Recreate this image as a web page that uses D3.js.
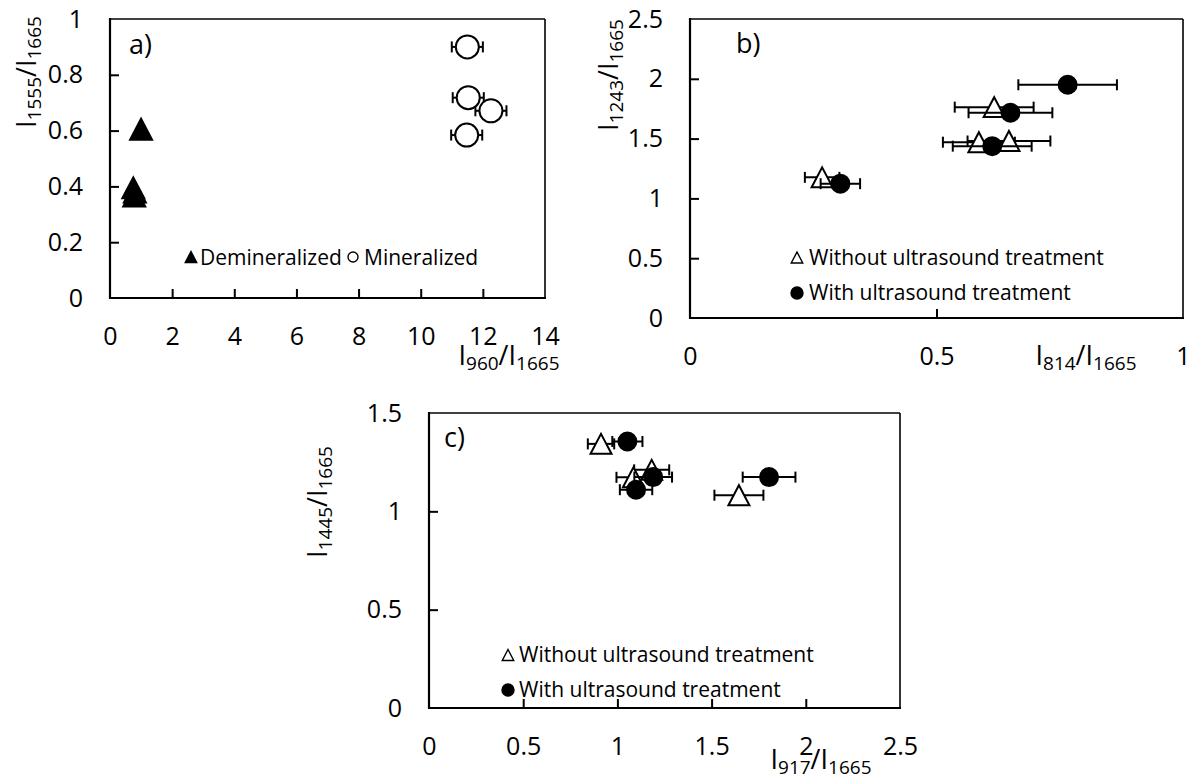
<!DOCTYPE html>
<html>
<head>
<meta charset="utf-8">
<script src="https://cdn.jsdelivr.net/npm/d3@7"></script>
<style>
  html, body { margin: 0; padding: 0; background: #fff; }
  svg text { font-family: "Open Sans", "Liberation Sans", sans-serif; fill: #000; }
</style>
</head>
<body>
<svg id="chart" width="1191" height="778"></svg>
<script>
// ---------- Panel a data ----------
const aDemX = [1.0, 0.75, 0.8, 0.78];
const aDemY = [0.605, 0.395, 0.38, 0.365];
const aMinX = [11.5, 11.53, 12.26, 11.48];
const aMinY = [0.90, 0.718, 0.671, 0.584];
const aMinXErr = [0.5, 0.5, 0.5, 0.5];
const aXTicks = [0, 2, 4, 6, 8, 10, 12, 14];
const aYTicks = [0, 0.2, 0.4, 0.6, 0.8, 1];
const aLegend = ["Demineralized", "Mineralized"];

// ---------- Panel b data ----------
const bWithoutX = [0.268, 0.617, 0.586, 0.647];
const bWithoutY = [1.176, 1.763, 1.47, 1.48];
const bWithoutErr = [0.035, 0.08, 0.073, 0.084];
const bWithX = [0.305, 0.766, 0.650, 0.613];
const bWithY = [1.123, 1.95, 1.716, 1.437];
const bWithErr = [0.04, 0.10, 0.085, 0.08];
const bXTicks = [0, 0.5, 1];
const bYTicks = [0, 0.5, 1, 1.5, 2, 2.5];

// ---------- Panel c data ----------
const cWithoutX = [0.913, 1.085, 1.182, 1.645];
const cWithoutY = [1.343, 1.173, 1.211, 1.082];
const cWithoutErr = [0.07, 0.09, 0.093, 0.13];
const cWithX = [1.053, 1.099, 1.19, 1.805];
const cWithY = [1.355, 1.11, 1.174, 1.174];
const cWithErr = [0.08, 0.086, 0.1, 0.14];
const cXTicks = [0, 0.5, 1, 1.5, 2, 2.5];
const cYTicks = [0, 0.5, 1, 1.5];

const treatLegend = ["Without ultrasound treatment", "With ultrasound treatment"];

const svg = d3.select("#chart");
const fmt = d => String(+(+d).toFixed(2));

function triPath(w, h) {
  return `M0,${-h/2}L${w/2},${h/2}L${-w/2},${h/2}Z`;
}

function panel(cfg) {
  const g = svg.append("g");
  const x = d3.scaleLinear().domain(cfg.xDomain).range([cfg.left, cfg.right]);
  const y = d3.scaleLinear().domain(cfg.yDomain).range([cfg.bottom, cfg.top]);

  // axes (ticks inside)
  const yAx = g.append("g").attr("transform", `translate(${cfg.left},0)`)
    .call(d3.axisLeft(y).tickValues(cfg.yTicks).tickFormat(fmt).tickSizeInner(-9).tickSizeOuter(0).tickPadding(27));
  const xAx = g.append("g").attr("transform", `translate(0,${cfg.bottom})`)
    .call(d3.axisBottom(x).tickValues(cfg.xTicks).tickFormat(fmt).tickSizeInner(-9).tickSizeOuter(0).tickPadding(29));
  [yAx, xAx].forEach(ax => {
    ax.select(".domain").remove();
    ax.selectAll("text").attr("font-size", 25).attr("font-family", "Open Sans");
    ax.selectAll(".tick line").attr("stroke", "#000").attr("stroke-width", 2);
  });
  const yd = cfg.yDomain, xd = cfg.xDomain;
  yAx.selectAll(".tick").filter(d => d === yd[0] || d === yd[1]).select("line").remove();
  xAx.selectAll(".tick").filter(d => d === xd[0] || d === xd[1]).select("line").remove();

  // frame
  g.append("line").attr("x1", cfg.left).attr("x2", cfg.right).attr("y1", cfg.top).attr("y2", cfg.top)
    .attr("stroke", "#000").attr("stroke-width", 1.6);
  g.append("line").attr("x1", cfg.right).attr("x2", cfg.right).attr("y1", cfg.top).attr("y2", cfg.bottom)
    .attr("stroke", "#000").attr("stroke-width", 1.6);
  g.append("line").attr("x1", cfg.left).attr("x2", cfg.left).attr("y1", cfg.top - 1).attr("y2", cfg.bottom + 1)
    .attr("stroke", "#000").attr("stroke-width", 2.2);
  g.append("line").attr("x1", cfg.left - 1).attr("x2", cfg.right + 1).attr("y1", cfg.bottom).attr("y2", cfg.bottom)
    .attr("stroke", "#000").attr("stroke-width", 2.2);

  // series
  cfg.series.forEach(s => {
    const pts = s.x.map((v, i) => ({ x: v, y: s.y[i], e: s.err ? s.err[i] : 0 }));
    if (s.err) {
      const eb = g.append("g").attr("stroke", "#000").attr("stroke-width", 2);
      pts.forEach(p => {
        const cy = y(p.y), x0 = x(p.x - p.e), x1 = x(p.x + p.e);
        eb.append("line").attr("x1", x0).attr("x2", x1).attr("y1", cy).attr("y2", cy);
        eb.append("line").attr("x1", x0).attr("x2", x0).attr("y1", cy - 5.5).attr("y2", cy + 5.5);
        eb.append("line").attr("x1", x1).attr("x2", x1).attr("y1", cy - 5.5).attr("y2", cy + 5.5);
      });
    }
    pts.forEach(p => {
      if (s.shape === "tri") {
        g.append("path").attr("d", triPath(s.size, s.size * 0.95))
          .attr("transform", `translate(${x(p.x)},${y(p.y)})`)
          .attr("fill", s.fill).attr("stroke", "#000").attr("stroke-width", 2).attr("stroke-linejoin", "miter");
      } else {
        g.append("circle").attr("cx", x(p.x)).attr("cy", y(p.y)).attr("r", s.size / 2)
          .attr("fill", s.fill).attr("stroke", "#000").attr("stroke-width", 2);
      }
    });
  });

  // panel label
  g.append("text").attr("x", cfg.label.x).attr("y", cfg.label.y).attr("font-size", 27).text(cfg.label.t);

  // axis titles with subscripts
  function title(parent, main1, sub1, main2, sub2) {
    const t = parent.append("text").attr("font-size", 27);
    t.append("tspan").text(main1);
    t.append("tspan").attr("font-size", 19).attr("dy", 5).text(sub1);
    t.append("tspan").attr("dy", -5).text(main2);
    t.append("tspan").attr("font-size", 19).attr("dy", 5).text(sub2);
    return t;
  }
  title(g, "I", cfg.xTitle[0], "/I", cfg.xTitle[1])
    .attr("text-anchor", "middle").attr("x", cfg.xTitlePos[0]).attr("y", cfg.xTitlePos[1]);
  title(g, "I", cfg.yTitle[0], "/I", cfg.yTitle[1])
    .attr("text-anchor", "middle")
    .attr("transform", `translate(${cfg.yTitlePos[0]},${cfg.yTitlePos[1]}) rotate(-90)`);

  // legend
  cfg.legend.forEach(l => {
    if (l.shape === "tri") {
      g.append("path").attr("d", triPath(11.5, 11)).attr("transform", `translate(${l.mx},${l.my})`)
        .attr("fill", l.fill).attr("stroke", "#000").attr("stroke-width", 1.4);
    } else {
      g.append("circle").attr("cx", l.mx).attr("cy", l.my).attr("r", l.r)
        .attr("fill", l.fill).attr("stroke", "#000").attr("stroke-width", 1.4);
    }
    g.append("text").attr("x", l.tx).attr("y", l.ty).attr("font-size", 21).text(l.t);
  });
}

panel({
  left: 110, right: 545, top: 19, bottom: 298,
  xDomain: [0, 14], yDomain: [0, 1], xTicks: aXTicks, yTicks: aYTicks,
  series: [
    { x: aDemX, y: aDemY, shape: "tri", size: 22, fill: "#000" },
    { x: aMinX, y: aMinY, err: aMinXErr, shape: "circle", size: 23, fill: "#fff" }
  ],
  label: { x: 129, y: 54, t: "a)" },
  xTitle: ["960", "1665"], xTitlePos: [509, 365],
  yTitle: ["1555", "1665"], yTitlePos: [36, 72],
  legend: [
    { shape: "tri", fill: "#000", mx: 191, my: 257, tx: 200, ty: 264.5, t: aLegend[0] },
    { shape: "circle", fill: "#fff", r: 5, mx: 353, my: 257, tx: 364, ty: 264.5, t: aLegend[1] }
  ]
});

panel({
  left: 690, right: 1183, top: 19, bottom: 318,
  xDomain: [0, 1], yDomain: [0, 2.5], xTicks: bXTicks, yTicks: bYTicks,
  series: [
    { x: bWithoutX, y: bWithoutY, err: bWithoutErr, shape: "tri", size: 21, fill: "#fff" },
    { x: bWithX, y: bWithY, err: bWithErr, shape: "circle", size: 18, fill: "#000" }
  ],
  label: { x: 736, y: 53, t: "b)" },
  xTitle: ["814", "1665"], xTitlePos: [1086, 365],
  yTitle: ["1243", "1665"], yTitlePos: [618, 75],
  legend: [
    { shape: "tri", fill: "#fff", mx: 797, my: 257.5, tx: 809, ty: 265, t: treatLegend[0] },
    { shape: "circle", fill: "#000", r: 6, mx: 797, my: 293, tx: 809, ty: 300, t: treatLegend[1] }
  ]
});

panel({
  left: 429, right: 900, top: 413, bottom: 708,
  xDomain: [0, 2.5], yDomain: [0, 1.5], xTicks: cXTicks, yTicks: cYTicks,
  series: [
    { x: cWithoutX, y: cWithoutY, err: cWithoutErr, shape: "tri", size: 21, fill: "#fff" },
    { x: cWithX, y: cWithY, err: cWithErr, shape: "circle", size: 18, fill: "#000" }
  ],
  label: { x: 444, y: 447, t: "c)" },
  xTitle: ["917", "1665"], xTitlePos: [821, 769],
  yTitle: ["1445", "1665"], yTitlePos: [327, 502],
  legend: [
    { shape: "tri", fill: "#fff", mx: 508, my: 655, tx: 519, ty: 662, t: treatLegend[0] },
    { shape: "circle", fill: "#000", r: 6, mx: 508, my: 690, tx: 519, ty: 697, t: treatLegend[1] }
  ]
});
</script>
</body>
</html>
